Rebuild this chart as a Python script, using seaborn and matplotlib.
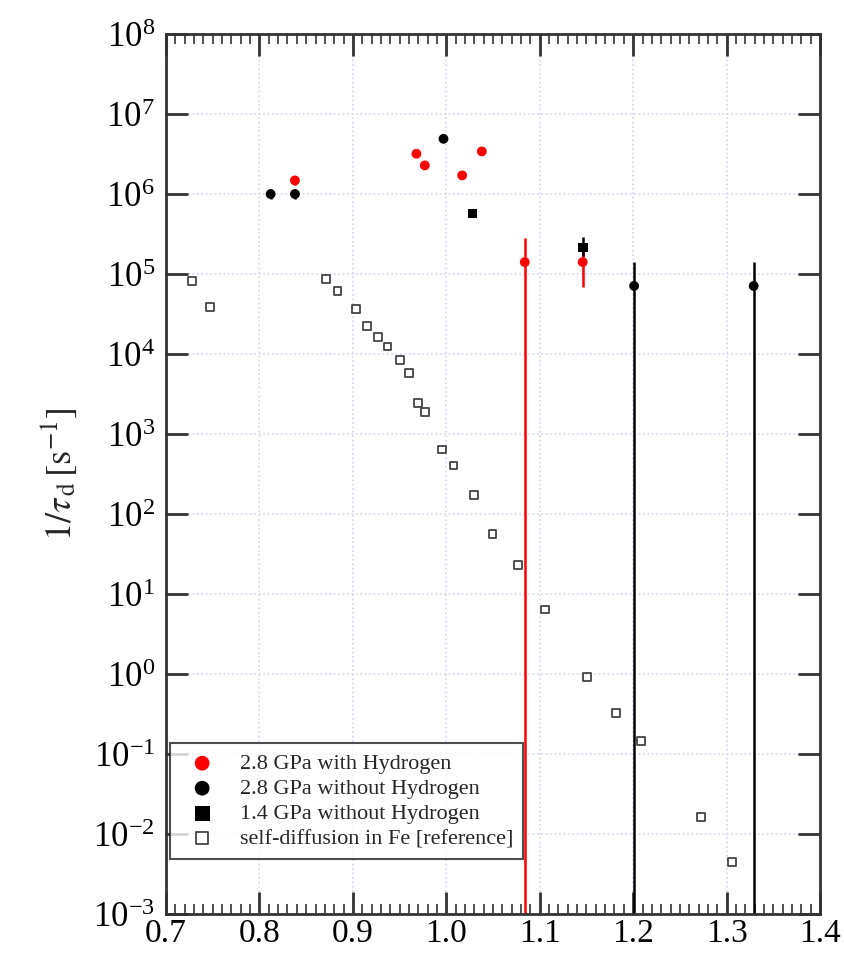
import numpy as np
import pandas as pd
import matplotlib
matplotlib.use('Agg')
import matplotlib.pyplot as plt
import matplotlib.ticker as mticker
import seaborn as sns

# data
h_x = [0.838, 0.968, 0.977, 1.017, 1.038, 1.084, 1.146]
h_y = [1.48e6, 3.19e6, 2.28e6, 1.71e6, 3.41e6, 1.41e5, 1.41e5]
h_lo = [1.28e6, 3.19e6, 2.28e6, 1.71e6, 3.41e6, 1e-4, 6.9e4]
h_hi = [1.70e6, 3.19e6, 2.28e6, 1.71e6, 3.41e6, 2.8e5, 2.0e5]

noh_x = [0.812, 0.838, 0.997, 1.201, 1.329]
noh_y = [1.0e6, 1.0e6, 4.9e6, 7.1e4, 7.1e4]
noh_lo = [0.86e6, 0.86e6, 4.9e6, 1e-4, 1e-4]
noh_hi = [1.16e6, 1.16e6, 4.9e6, 1.41e5, 1.41e5]

p14_x = [1.028, 1.146]
p14_y = [5.7e5, 2.15e5]
p14_lo = [5.7e5, 1.7e5]
p14_hi = [5.7e5, 2.87e5]

fe_x = [0.7275, 0.7474, 0.8708, 0.8836, 0.9035, 0.9153, 0.9267, 0.9371,
        0.9503, 0.9599, 0.9699, 0.9774, 0.9952, 1.0077, 1.0298, 1.0494,
        1.0767, 1.1053, 1.151, 1.182, 1.208, 1.2725, 1.3057]
fe_y = [8.1e4, 3.9e4, 8.7e4, 6.2e4, 3.7e4, 2.24e4, 1.63e4, 1.24e4,
        8.4e3, 5.8e3, 2.46e3, 1.9e3, 642, 405, 173, 55.6,
        23.3, 6.4, 0.925, 0.322, 0.147, 0.0162, 0.00447]

sns.set_style('ticks')
plt.rcParams['font.family'] = ['Liberation Serif', 'DejaVu Serif']
plt.rcParams['mathtext.fontset'] = 'stix'

fig = plt.figure(figsize=(8.44, 9.59), dpi=100)
ax = fig.add_axes([0.1967, 0.0469, 0.7749, 0.9176])

# error bars first
for xs, ys, lo, hi, col in [(h_x, h_y, h_lo, h_hi, 'red'),
                            (noh_x, noh_y, noh_lo, noh_hi, 'black'),
                            (p14_x, p14_y, p14_lo, p14_hi, 'black')]:
    ys = np.array(ys)
    err = [ys - np.array(lo), np.array(hi) - ys]
    ax.errorbar(xs, ys, yerr=err, fmt='none', ecolor=col, elinewidth=1.8,
                capsize=0, zorder=2)

sns.scatterplot(x=h_x, y=h_y, ax=ax, color='red', marker='o', s=50,
                edgecolor='none', label='2.8 GPa with Hydrogen', zorder=4)
sns.scatterplot(x=noh_x, y=noh_y, ax=ax, color='black', marker='o', s=50,
                edgecolor='none', label='2.8 GPa without Hydrogen', zorder=4)
sns.scatterplot(x=p14_x, y=p14_y, ax=ax, color='black', marker='s', s=50,
                edgecolor='none', label='1.4 GPa without Hydrogen', zorder=4)
sns.scatterplot(x=fe_x, y=fe_y, ax=ax, marker='s', s=32, facecolor='none',
                edgecolor='#444444', linewidth=1.3,
                label='self-diffusion in Fe [reference]', zorder=3)

ax.set_yscale('log')
ax.set_xlim(0.7, 1.4)
ax.set_ylim(1e-3, 1e8)
ax.xaxis.set_major_locator(mticker.MultipleLocator(0.1))
ax.xaxis.set_minor_locator(mticker.MultipleLocator(0.01))
ax.xaxis.set_major_formatter(mticker.FormatStrFormatter('%.1f'))
ax.yaxis.set_major_locator(mticker.LogLocator(base=10, numticks=20))
ax.yaxis.set_minor_locator(mticker.NullLocator())
ax.yaxis.set_major_formatter(mticker.LogFormatterMathtext())

ax.grid(True, which='major', color='#d4d4f4', linestyle=':', linewidth=1.2)
ax.tick_params(which='both', direction='in', top=True, right=True,
               colors='#333333', labelcolor='black')
ax.tick_params(axis='x', pad=3, labelsize=24)
ax.tick_params(axis='y', pad=8, labelsize=25)
ax.tick_params(which='major', length=16, width=2)
ax.tick_params(which='minor', length=7, width=1.2)
for sp in ax.spines.values():
    sp.set_linewidth(2)
    sp.set_color('#333333')

ax.set_ylabel(r'$1/\tau_{\,\mathrm{d}}\,[\mathrm{s}^{-1}]$', fontsize=26, labelpad=10)
ax.set_xlabel('')

leg = ax.legend(loc='lower left', bbox_to_anchor=(0.006, 0.0625), fontsize=16,
                frameon=True, fancybox=False, edgecolor='#222222',
                borderpad=0.45, handletextpad=0.7, labelspacing=0.2,
                markerscale=1.5, borderaxespad=0)
leg.get_frame().set_linewidth(1.5)

fig.savefig('out.png', dpi=100)
